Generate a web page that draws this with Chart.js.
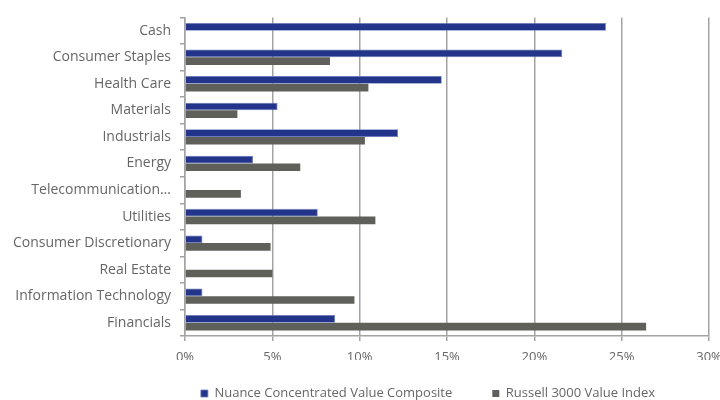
<!DOCTYPE html>
<html>
<head>
<meta charset="utf-8">
<script src="https://cdn.jsdelivr.net/npm/chart.js"></script>
<style>
  html, body { margin: 0; padding: 0; background: #fff; }
  #wrap { width: 720px; height: 400px; }
</style>
</head>
<body>
<div id="wrap"><canvas id="sectorChart"></canvas></div>
<script>
// Sector weights, portfolio vs benchmark
const sectors = ['Cash', 'Consumer Staples', 'Health Care', 'Materials', 'Industrials', 'Energy',
    'Telecommunication Services', 'Utilities', 'Consumer Discretionary', 'Real Estate',
    'Information Technology', 'Financials'];
const nuanceValues = [24.1, 21.6, 14.7, 5.3, 12.2, 3.9, 0, 7.6, 1.0, 0, 1.0, 8.6];
const russellValues = [0, 8.3, 10.5, 3.0, 10.3, 6.6, 3.2, 10.9, 4.9, 5.0, 9.7, 26.4];
const xTicks = [0, 5, 10, 15, 20, 25, 30];

const axisGrey = '#a3a3a3';
const textGrey = '#666666';

// Nudge the legend so it sits where the original one does
const legendShift = {
    id: 'legendShift',
    afterLayout: function(chart) {
        const legend = chart.legend;
        if (!legend) return;
        const dx = 68;
        legend.left += dx;
        legend.right += dx;
        legend.top = 347;
        legend.bottom = 400;
    }
};

document.addEventListener('DOMContentLoaded', function() {
    const ctx = document.getElementById('sectorChart').getContext('2d');

    new Chart(ctx, {
        type: 'bar',
        data: {
            labels: sectors,
            datasets: [{
                label: 'Nuance Concentrated Value Composite',
                data: nuanceValues,
                backgroundColor: '#22358a',
                borderColor: '#6f7cbc',
                borderWidth: 0.8,
                categoryPercentage: 0.58,
                barPercentage: 1
            }, {
                label: 'Russell 3000 Value Index',
                data: russellValues,
                backgroundColor: '#5f605a',
                borderWidth: 0,
                categoryPercentage: 0.58,
                barPercentage: 1
            }]
        },
        options: {
            indexAxis: 'y',
            responsive: true,
            maintainAspectRatio: false,
            animation: false,
            layout: {
                padding: { top: 17, left: 0, right: 0, bottom: 0 }
            },
            scales: {
                x: {
                    min: 0,
                    max: 30,
                    afterBuildTicks: function(scale) {
                        scale.ticks = xTicks.map(function(v) { return { value: v }; });
                    },
                    ticks: {
                        color: textGrey,
                        font: { family: 'Open Sans', size: 13 },
                        padding: 8,
                        callback: function(value) { return value + '%'; }
                    },
                    grid: {
                        color: axisGrey,
                        lineWidth: 1.5,
                        tickLength: 5
                    },
                    border: { color: axisGrey, width: 1.5 },
                    afterFit: function(scale) {
                        scale.height = 24;
                        scale.paddingRight = 11;
                    }
                },
                y: {
                    ticks: {
                        color: textGrey,
                        font: { family: 'Open Sans', size: 14 },
                        padding: 9,
                        autoSkip: false,
                        callback: function(value) {
                            const label = this.getLabelForValue(value);
                            return label.length > 22 ? label.slice(0, 17) + '…' : label;
                        }
                    },
                    grid: {
                        drawOnChartArea: false,
                        color: axisGrey,
                        lineWidth: 1.5,
                        tickLength: 5
                    },
                    border: { color: axisGrey, width: 1.5 },
                    afterFit: function(scale) { scale.width = 185; }
                }
            },
            plugins: {
                legend: {
                    position: 'bottom',
                    maxHeight: 40,
                    labels: {
                        color: textGrey,
                        font: { family: 'Open Sans', size: 13 },
                        boxWidth: 7,
                        boxHeight: 7,
                        padding: 40
                    }
                },
                tooltip: { enabled: false }
            }
        },
        plugins: [legendShift]
    });
});
</script>
</body>
</html>
